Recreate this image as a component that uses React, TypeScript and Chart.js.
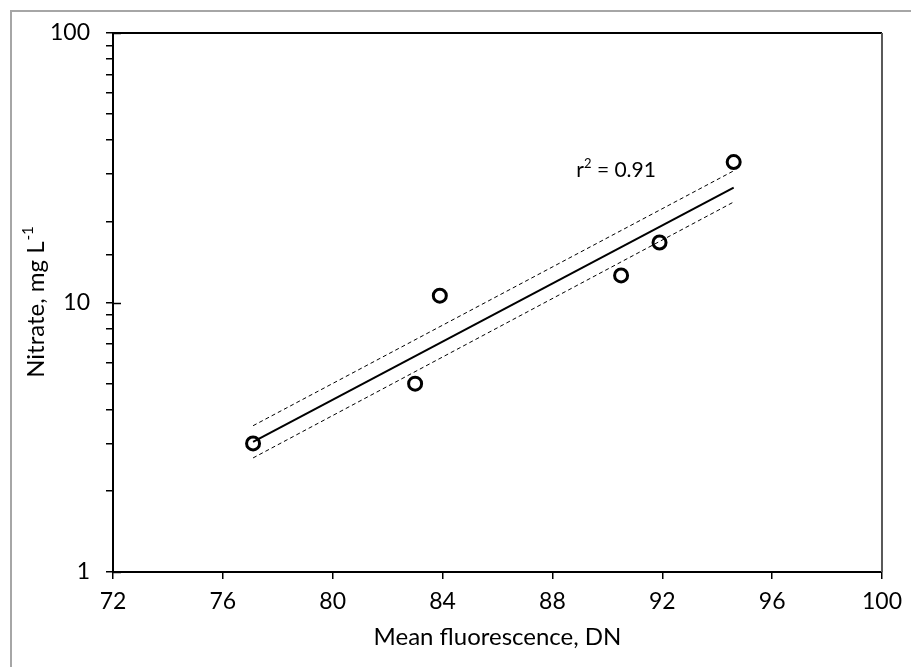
import React, { useEffect, useRef } from 'react';
import { Chart, registerables } from 'chart.js';

Chart.register(...registerables);

// ---- data ----
const fluorescence = [77.1, 83.0, 83.9, 90.5, 91.9, 94.6];
const nitrate = [3.0, 5.0, 10.6, 12.6, 16.7, 33.2];
const fitX = [77.1, 94.6];
const fitY = [3.04, 26.7];
const upperY = [3.49, 30.8];
const lowerY = [2.65, 23.6];
const xTickValues = [72, 76, 80, 84, 88, 92, 96, 100];
const yMajorTicks = [1, 10, 100];
const xTitle = 'Mean fluorescence, DN';
const yTitleMain = 'Nitrate, mg L';
const yTitleSup = '-1';
const r2Base = 'r';
const r2Sup = '2';
const r2Rest = ' = 0.91';

const FONT = 'Lato, "Open Sans", sans-serif';
const W = 911;
const H = 667;

const decorPlugin = {
  id: 'decor',
  beforeDraw(chart: any) {
    const ctx = chart.ctx;
    ctx.save();
    ctx.fillStyle = '#ffffff';
    ctx.fillRect(0, 0, chart.width, chart.height);
    ctx.fillStyle = '#a6a6a6';
    ctx.fillRect(10, 10, chart.width - 10, 2);
    ctx.fillRect(10, 10, 2, chart.height - 10);
    ctx.restore();
  },
  afterDraw(chart: any) {
    const ctx = chart.ctx;
    const { left, right, top, bottom } = chart.chartArea;
    const xs = chart.scales.x;
    const ys = chart.scales.y;
    ctx.save();
    // plot-area border (top and right)
    ctx.strokeStyle = '#000';
    ctx.lineWidth = 2;
    ctx.beginPath();
    ctx.moveTo(left, top);
    ctx.lineTo(right, top);
    ctx.stroke();
    ctx.strokeStyle = '#595959';
    ctx.beginPath();
    ctx.moveTo(right, top);
    ctx.lineTo(right, bottom);
    ctx.stroke();
    // inside half of crossing major ticks on y axis
    ctx.strokeStyle = '#000';
    ctx.lineWidth = 1.5;
    yMajorTicks.forEach((v) => {
      const y = Math.round(ys.getPixelForValue(v)) + 0.5;
      ctx.beginPath();
      ctx.moveTo(left, y);
      ctx.lineTo(left + 8, y);
      ctx.stroke();
    });
    ctx.fillStyle = '#000';
    // x title
    ctx.font = `24px ${FONT}`;
    ctx.textAlign = 'center';
    ctx.textBaseline = 'middle';
    ctx.fillText(xTitle, (left + right) / 2, 637);
    // y title with superscript
    ctx.save();
    ctx.translate(36, (top + bottom) / 2);
    ctx.rotate(-Math.PI / 2);
    ctx.font = `24px ${FONT}`;
    const wMain = ctx.measureText(yTitleMain).width;
    ctx.font = `15px ${FONT}`;
    const wSup = ctx.measureText(yTitleSup).width;
    const total = wMain + wSup;
    ctx.textAlign = 'left';
    ctx.textBaseline = 'alphabetic';
    ctx.font = `24px ${FONT}`;
    ctx.fillText(yTitleMain, -total / 2, 8);
    ctx.font = `15px ${FONT}`;
    ctx.fillText(yTitleSup, -total / 2 + wMain + 1, -3);
    ctx.restore();
    // r^2 label
    const lx = xs.getPixelForValue(88.87);
    const ly = ys.getPixelForValue(31);
    ctx.textAlign = 'left';
    ctx.textBaseline = 'alphabetic';
    ctx.font = `21px ${FONT}`;
    ctx.fillText(r2Base, lx, ly + 7);
    const wr = ctx.measureText(r2Base).width;
    ctx.font = `13px ${FONT}`;
    ctx.fillText(r2Sup, lx + wr, ly - 2);
    const w2 = ctx.measureText(r2Sup).width;
    ctx.font = `21px ${FONT}`;
    ctx.fillText(r2Rest, lx + wr + w2, ly + 7);
    ctx.restore();
  },
};

export default function App() {
  const ref = useRef<HTMLCanvasElement | null>(null);
  useEffect(() => {
    if (!ref.current) return;
    const pts = fluorescence.map((x, i) => ({ x, y: nitrate[i] }));
    const fit = fitX.map((x, i) => ({ x, y: fitY[i] }));
    const up = fitX.map((x, i) => ({ x, y: upperY[i] }));
    const lo = fitX.map((x, i) => ({ x, y: lowerY[i] }));
    const chart = new Chart(ref.current, {
      type: 'scatter',
      data: {
        datasets: [
          {
            data: pts,
            showLine: false,
            pointRadius: 6.5,
            pointBorderWidth: 3,
            pointBorderColor: '#000',
            pointBackgroundColor: 'rgba(0,0,0,0)',
          },
          {
            data: fit,
            showLine: true,
            borderColor: '#000',
            borderWidth: 2,
            pointRadius: 0,
          },
          {
            data: up,
            showLine: true,
            borderColor: '#000',
            borderWidth: 1,
            borderDash: [4, 3],
            pointRadius: 0,
          },
          {
            data: lo,
            showLine: true,
            borderColor: '#000',
            borderWidth: 1,
            borderDash: [4, 3],
            pointRadius: 0,
          },
        ],
      },
      options: {
        responsive: false,
        animation: false,
        devicePixelRatio: 1,
        layout: { padding: { left: 0, top: 33, right: 28, bottom: 0 } },
        plugins: { legend: { display: false }, tooltip: { enabled: false } },
        scales: {
          x: {
            type: 'linear',
            min: 72,
            max: 100,
            afterBuildTicks: (scale: any) => {
              scale.ticks = xTickValues.map((v) => ({ value: v }));
            },
            afterFit: (scale: any) => {
              scale.height = 95;
            },
            border: { display: true, color: '#000', width: 2 },
            grid: {
              display: true,
              drawOnChartArea: false,
              drawTicks: true,
              tickLength: 7,
              color: '#000',
              lineWidth: 1.5,
            },
            ticks: {
              color: '#000',
              font: { family: FONT, size: 23 },
              padding: 9,
              maxRotation: 0,
            },
          },
          y: {
            type: 'logarithmic',
            min: 1,
            max: 100,
            afterFit: (scale: any) => {
              scale.width = 113;
            },
            border: { display: true, color: '#000', width: 2 },
            grid: {
              display: true,
              drawOnChartArea: false,
              drawTicks: true,
              tickLength: 7,
              color: '#000',
              lineWidth: 1.5,
            },
            ticks: {
              color: '#000',
              font: { family: FONT, size: 23 },
              padding: 16,
              autoSkip: false,
              callback: (v: any) => (yMajorTicks.includes(Number(v)) ? String(v) : ''),
            },
          },
        },
      },
      plugins: [decorPlugin],
    } as any);
    return () => chart.destroy();
  }, []);
  return (
    <canvas
      ref={ref}
      width={W}
      height={H}
      style={{ position: 'fixed', left: 0, top: 0, width: W, height: H }}
    />
  );
}
